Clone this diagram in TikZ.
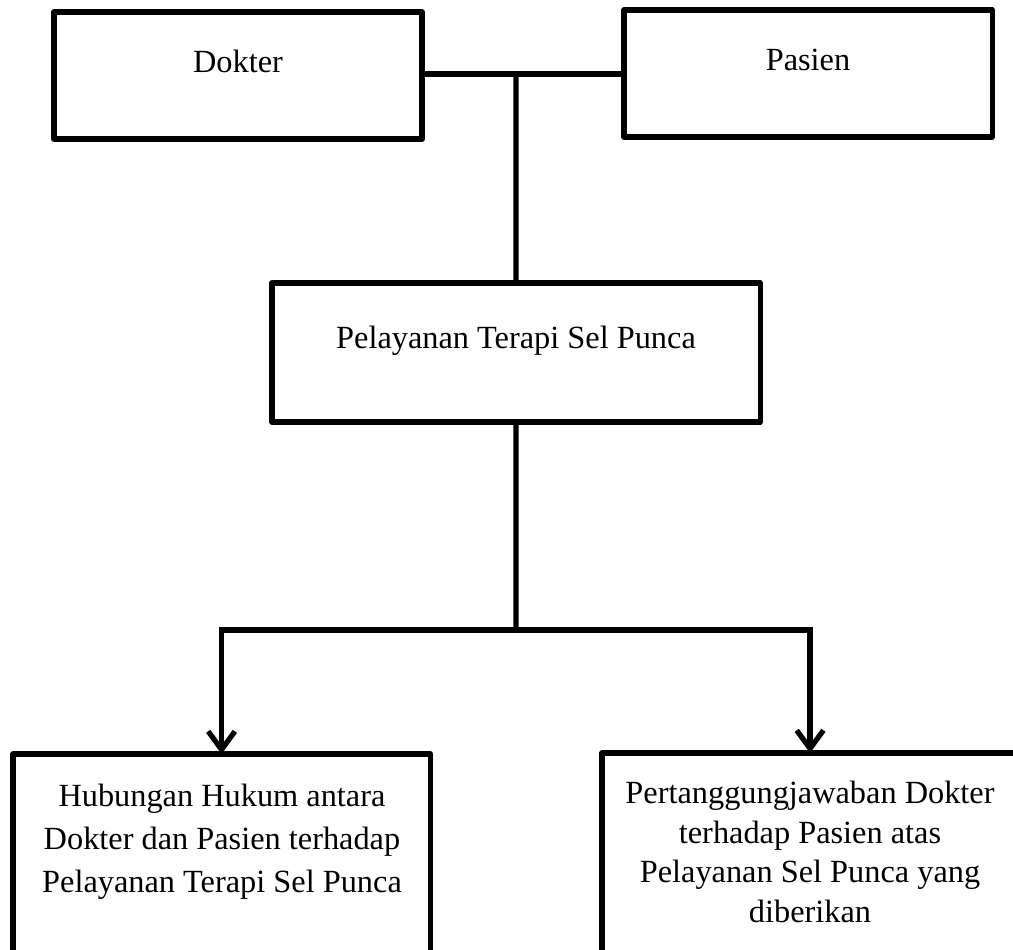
\documentclass[tikz,border=0pt]{standalone}
\usepackage{fontspec}
\setmainfont{Liberation Serif}
\usetikzlibrary{arrows.meta,positioning}

\begin{document}
\begin{tikzpicture}[x=0.025cm, y=-0.025cm,
    box/.style={draw, rectangle, line width=3.7pt, inner sep=0pt, outer sep=0pt,
                anchor=north west, line join=round},
    lbl/.style={inner sep=0pt, align=center,
                font=\fontsize{23}{30.5}\selectfont},
    link/.style={line width=3.7pt},
    arr/.style={line width=3.7pt, -{Straight Barb[length=13pt,width=19pt]}}]
  %% Frame of the picture
  \useasboundingbox (0,0) rectangle (1013,949);
  \clip (0,0) rectangle (1013,949);

  %% Top row
  \node[box, minimum width=9.2cm, minimum height=3.175cm] (dokter) at (54,12) {};
  \node[box, minimum width=9.2cm, minimum height=3.175cm] (pasien) at (624,10) {};
  \node[lbl, anchor=base] (tdokter) at (238,72) {Dokter};
  \node[lbl, anchor=base] (tpasien) at (808,70) {Pasien};

  %% Middle box
  \node[box, minimum width=12.2cm, minimum height=3.475cm] (terapi) at (272,283) {};
  \node[lbl, anchor=base] (tterapi) at (516,348) {Pelayanan Terapi Sel Punca};

  %% Bottom boxes (run off the page)
  \node[box, minimum width=10.425cm, minimum height=7.5cm] (hubungan) at (13,754) {};
  \node[box, minimum width=10.4cm, minimum height=7.5cm] (tanggung) at (602,753) {};
  \node[lbl] (thubungan) at (222,842)
    {Hubungan Hukum antara\\Dokter dan Pasien terhadap\\Pelayanan Terapi Sel Punca};
  \node[lbl, font=\fontsize{23}{28.3}\selectfont] (ttanggung) at (810,852)
    {Pertanggungjawaban Dokter\\terhadap Pasien atas\\Pelayanan Sel Punca yang\\diberikan};

  %% Connectors
  \coordinate (join) at (516,74);
  \coordinate (split) at (516,630);
  \draw[link] (dokter.east |- join) -- (pasien.west |- join);
  \draw[link] (join) -- (terapi.north);
  \draw[link] (terapi.south) -- (split);
  \draw[arr] (split) -| (hubungan.north);
  \draw[arr] (split) -| (tanggung.north);
\end{tikzpicture}
\end{document}
